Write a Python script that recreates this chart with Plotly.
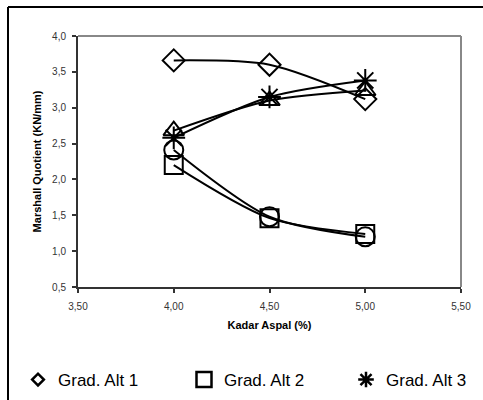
import plotly.graph_objects as go

kadar = [4.00, 4.50, 5.00]
alt1 = [3.66, 3.60, 3.12]
alt2 = [2.20, 1.46, 1.24]
alt3 = [2.58, 3.15, 3.38]
alt4 = [2.68, 3.10, 3.24]
alt5 = [2.41, 1.48, 1.20]

names = ["Grad. Alt 1", "Grad. Alt 2", "Grad. Alt 3", "Grad. Alt 4", "Grad. Alt 5"]
series = [alt1, alt2, alt3, alt4, alt5]
symbols = ["diamond-open", "square-open", "asterisk-open", "triangle-up-open", "circle-open"]
sizes = [17, 18, 19, 18, 19]

yticks = [0.5, 1.0, 1.5, 2.0, 2.5, 3.0, 3.5, 4.0]
ytext = ["0,5", "1,0", "1,5", "2,0", "2,5", "3,0", "3,5", "4,0"]
xticks = [3.5, 4.0, 4.5, 5.0, 5.5]
xtext = ["3,50", "4,00", "4,50", "5,00", "5,50"]

fig = go.Figure()
for n, s, sym, sz in zip(names, series, symbols, sizes):
    fig.add_trace(go.Scatter(
        x=kadar, y=s, mode="lines+markers", name=n, showlegend=False,
        line=dict(color="black", width=2, shape="spline", smoothing=0.8),
        marker=dict(symbol=sym, size=sz, color="black", line=dict(color="black", width=2)),
    ))

L, R, T, B = 78, 461, 36, 287
W, H = 483, 400
pw, ph = R - L, B - T

def px(xp):
    return (xp - L) / pw

def py(yp):
    return (B - yp) / ph

leg_sizes = [9, 15, 13]
leg_ids = ["legend", "legend2", "legend3"]
leg_x = [18, 184, 346]
for n, sym, sz, lid in zip(names[:3], symbols[:3], leg_sizes, leg_ids):
    fig.add_trace(go.Scatter(
        x=[None], y=[None], mode="markers", name=n, showlegend=True, legend=lid,
        marker=dict(symbol=sym, size=sz, color="black", line=dict(color="black", width=2.5)),
    ))

shapes = [
    dict(type="line", xref="paper", yref="paper", x0=0, x1=1, y0=1, y1=1,
         line=dict(color="#888888", width=2)),
    dict(type="line", xref="paper", yref="paper", x0=1, x1=1, y0=0, y1=1,
         line=dict(color="#888888", width=2)),
    dict(type="line", xref="paper", yref="paper", x0=px(8), x1=px(490), y0=py(7), y1=py(7),
         line=dict(color="black", width=2)),
    dict(type="line", xref="paper", yref="paper", x0=px(8), x1=px(8), y0=py(7), y1=py(410),
         line=dict(color="black", width=2)),
]

def leg(xpix):
    return dict(orientation="h", x=xpix / W, xref="container", y=(H - 380) / H, yref="container",
                xanchor="left", yanchor="middle",
                font=dict(size=17, family="Arial, Liberation Sans, sans-serif", color="black"),
                itemwidth=30, bgcolor="rgba(0,0,0,0)")

fig.update_layout(
    width=W, height=H,
    margin=dict(l=L, r=W - R, t=T, b=H - B, autoexpand=False),
    paper_bgcolor="white", plot_bgcolor="white",
    font=dict(family="Arial, Liberation Sans, sans-serif", color="black"),
    shapes=shapes,
    showlegend=True,
    legend=leg(leg_x[0]), legend2=leg(leg_x[1]), legend3=leg(leg_x[2]),
    xaxis=dict(range=[3.5, 5.5], tickvals=xticks, ticktext=xtext, showgrid=False,
               zeroline=False, showline=True, linecolor="#333333", linewidth=2,
               ticks="outside", ticklen=4, tickwidth=1.5, tickcolor="#333333",
               ticklabelstandoff=5,
               tickfont=dict(size=10, color="#333333"),
               title=dict(text="<b>Kadar Aspal (%)</b>", font=dict(size=11), standoff=10)),
    yaxis=dict(range=[0.5, 4.0], tickvals=yticks, ticktext=ytext, showgrid=False,
               zeroline=False, showline=True, linecolor="#333333", linewidth=2,
               ticks="outside", ticklen=4, tickwidth=1.5, tickcolor="#333333",
               ticklabelstandoff=4,
               tickfont=dict(size=10, color="#333333"),
               title=dict(text="<b>Marshall Quotient (KN/mm)</b>", font=dict(size=11), standoff=8)),
)

fig.write_html("out.html")
